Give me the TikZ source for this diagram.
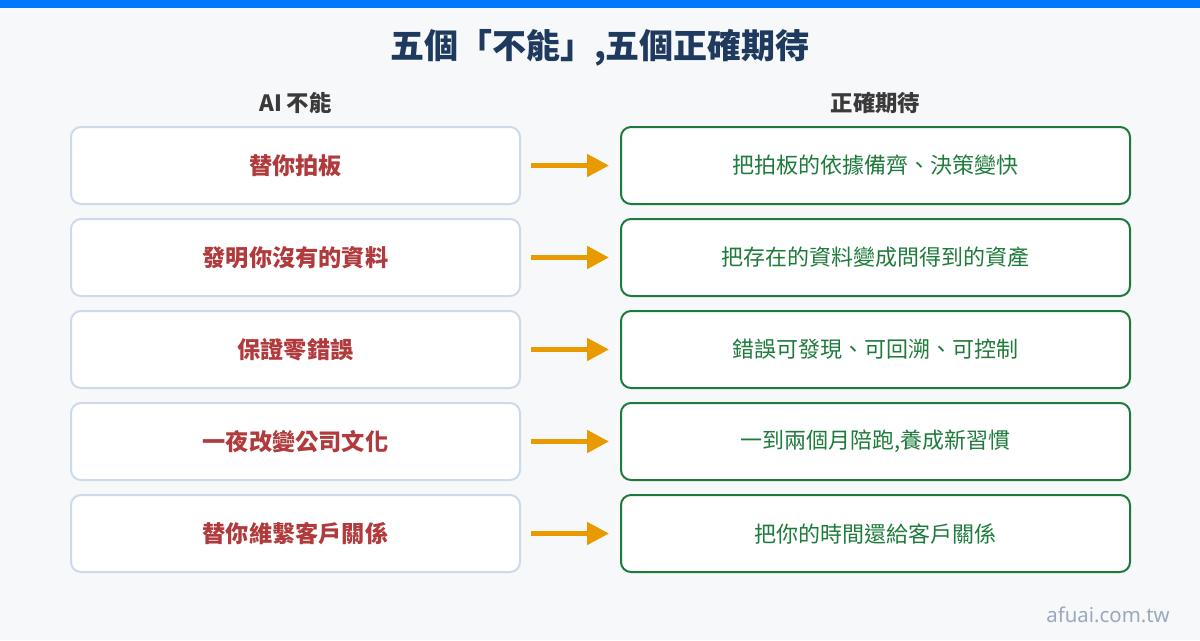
\documentclass[tikz,border=0pt]{standalone}
\usepackage{fontspec}
\setmainfont{Noto Sans CJK TC}
\newfontfamily\wmfont{Noto Sans}
\usetikzlibrary{arrows.meta}
\definecolor{bg}{HTML}{F7F8FA}
\definecolor{topbar}{HTML}{0077FF}
\definecolor{titlec}{HTML}{1F3A5F}
\definecolor{headc}{HTML}{3A3A3A}
\definecolor{leftb}{HTML}{CCDAEA}
\definecolor{leftt}{HTML}{B03A3C}
\definecolor{rightb}{HTML}{1B7A3C}
\definecolor{rightt}{HTML}{1E7B3C}
\definecolor{arrowc}{HTML}{E89A00}
\definecolor{wmc}{HTML}{9AA9C0}
\begin{document}
\begin{tikzpicture}[x=0.75pt,y=-0.75pt,
  leftbox/.style={draw=leftb,line width=1.5pt,fill=white,rounded corners=7.5pt,
    minimum width=336.75pt,minimum height=57.75pt,inner sep=0pt,
    font=\fontsize{17.4}{20}\selectfont\bfseries,text=leftt},
  rightbox/.style={draw=rightb,line width=1.5pt,fill=white,rounded corners=7.5pt,
    minimum width=381.75pt,minimum height=57.75pt,inner sep=0pt,
    font=\fontsize{16.5}{20}\selectfont,text=rightt},
  head/.style={font=\fontsize{16.8}{20}\selectfont\bfseries,text=headc,inner sep=0pt},
  conn/.style={draw=arrowc,line width=3.75pt,-{Triangle[length=16.5pt,width=16.5pt]},
    shorten <=7.5pt,shorten >=8.25pt}
]
\useasboundingbox (0,0) rectangle (1200,640);
\fill[bg] (0,0) rectangle (1200,640);
\fill[topbar] (0,0) rectangle (1200,8);
\node[font=\fontsize{25.5}{30}\selectfont\bfseries,text=titlec,inner sep=0pt] (title) at (600,48) {五個「不能」,五個正確期待};
\node[head] (hl) at (295.5,103) {AI 不能};
\node[head] (hr) at (875.5,103) {正確期待};
\foreach \i/\l/\r in {0/{替你拍板}/{把拍板的依據備齊、決策變快},
  1/{發明你沒有的資料}/{把存在的資料變成問得到的資產},
  2/{保證零錯誤}/{錯誤可發現、可回溯、可控制},
  3/{一夜改變公司文化}/{一到兩個月陪跑,養成新習慣},
  4/{替你維繫客戶關係}/{把你的時間還給客戶關係}}{
  \node[leftbox] (L\i) at (295.5,165.5+92*\i) {\l};
  \node[rightbox] (R\i) at (875.5,165.5+92*\i) {\r};
  \draw[conn] (L\i.east) -- (R\i.west);
}
\node[font=\wmfont\fontsize{15.3}{18}\selectfont,text=wmc,anchor=east,inner sep=0pt] (wm) at (1170,615) {afuai.com.tw};
\end{tikzpicture}
\end{document}
